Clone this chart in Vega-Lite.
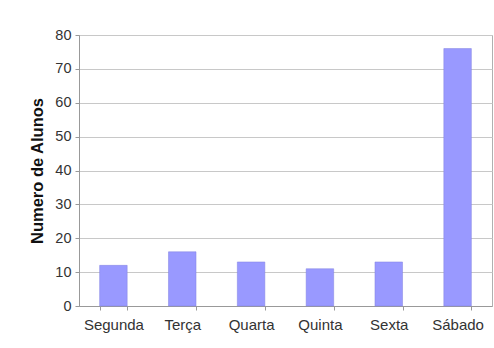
{
  "$schema": "https://vega.github.io/schema/vega-lite/v6.json",
  "width": 413,
  "height": 271,
  "autosize": {"type": "none"},
  "padding": {"left": 79, "top": 35, "right": 2, "bottom": 42},
  "background": "white",
  "data": {
    "values": [
      {"dia": "Segunda", "alunos": 12},
      {"dia": "Terça", "alunos": 16},
      {"dia": "Quarta", "alunos": 13},
      {"dia": "Quinta", "alunos": 11},
      {"dia": "Sexta", "alunos": 13},
      {"dia": "Sábado", "alunos": 76}
    ]
  },
  "mark": {"type": "bar", "color": "#9999ff", "stroke": "#8080e0", "strokeWidth": 0.5},
  "encoding": {
    "x": {
      "field": "dia",
      "type": "nominal",
      "sort": null,
      "scale": {"paddingInner": 0.6, "paddingOuter": 0.3},
      "axis": {
        "title": null,
        "labelAngle": 0,
        "tickBand": "extent",
        "tickSize": 4,
        "labelPadding": 7,
        "labelFontSize": 15,
        "labelColor": "#333333",
        "labelFont": "Liberation Sans",
        "domainColor": "#999999",
        "tickColor": "#999999",
        "grid": false
      }
    },
    "y": {
      "field": "alunos",
      "type": "quantitative",
      "scale": {"domain": [0, 80], "nice": false},
      "axis": {
        "title": "Numero de Alunos",
        "titleFont": "Liberation Sans",
        "titleFontSize": 16.5,
        "titleFontWeight": "bold",
        "titleColor": "#111111",
        "titlePadding": 9,
        "values": [0, 10, 20, 30, 40, 50, 60, 70, 80],
        "tickSize": 4,
        "labelPadding": 4,
        "labelFontSize": 14.5,
        "labelColor": "#333333",
        "labelFont": "Liberation Sans",
        "domainColor": "#999999",
        "tickColor": "#999999",
        "gridColor": "#c8c8c8"
      }
    }
  },
  "config": {
    "view": {"stroke": "#b0b0b0"}
  }
}
